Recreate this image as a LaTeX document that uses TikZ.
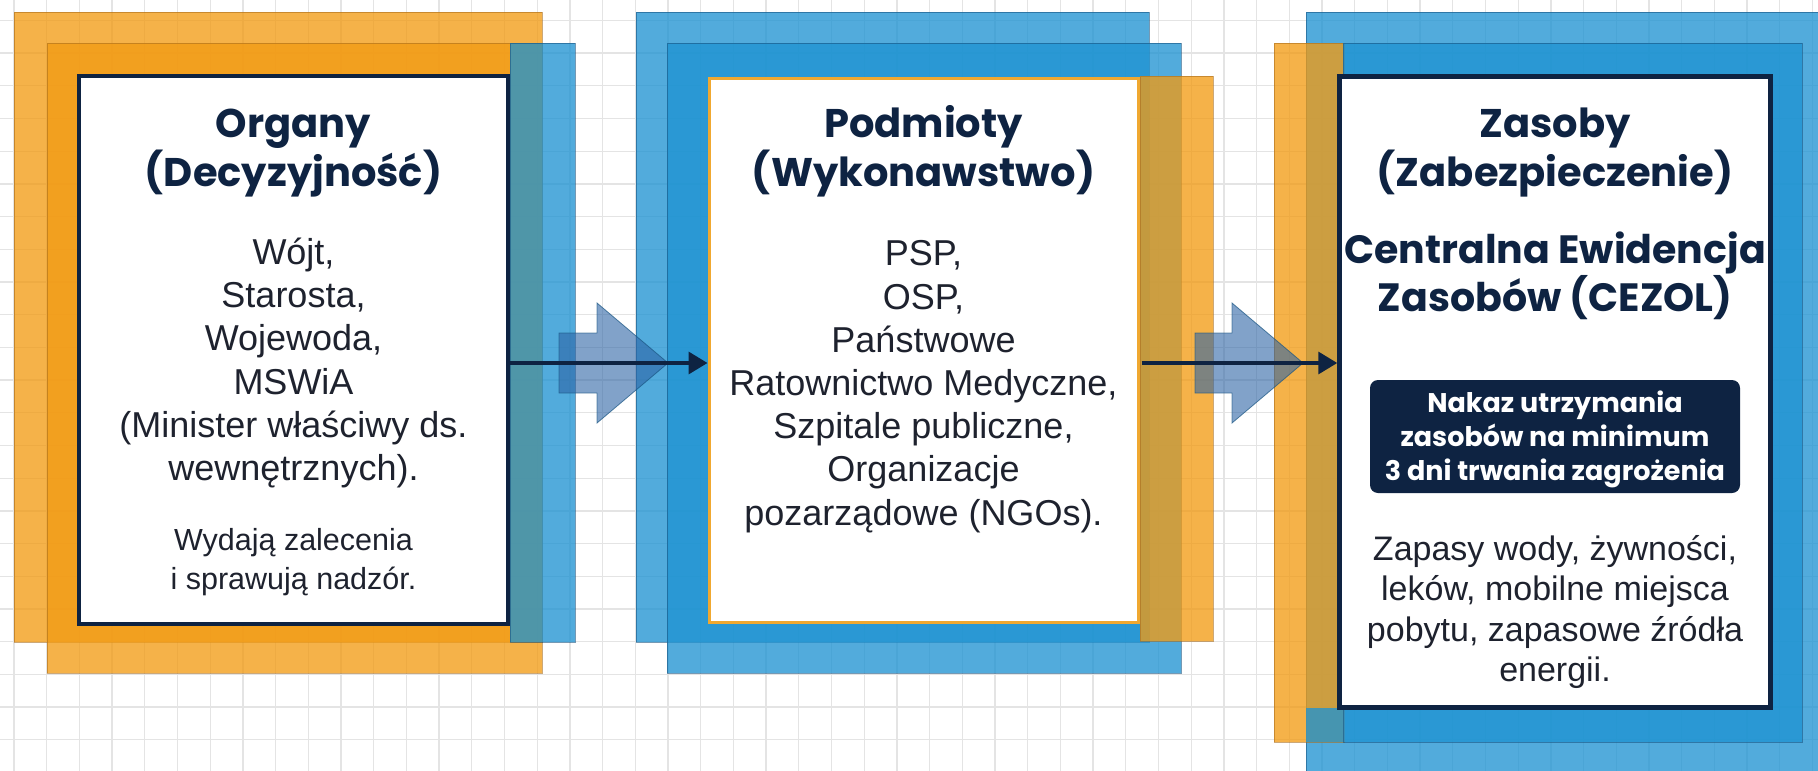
\documentclass[tikz,border=0pt]{standalone}
\usepackage{fontspec}
\setmainfont{Liberation Sans}
\newfontfamily\titlefont{Poppins}
\usetikzlibrary{arrows.meta}
\definecolor{org}{RGB}{242,155,19}
\definecolor{orgline}{RGB}{170,110,30}
\definecolor{blu}{RGB}{30,147,210}
\definecolor{bluline}{RGB}{25,85,130}
\definecolor{navy}{RGB}{14,35,66}
\definecolor{txt}{RGB}{30,34,46}
\definecolor{gridc}{RGB}{228,228,228}
\definecolor{barrow}{RGB}{45,100,165}
\definecolor{borg}{RGB}{240,168,48}
\tikzset{
  orangerect/.style={fill=org, fill opacity=0.77, draw=orgline, draw opacity=0.6, line width=1pt},
  bluerect/.style={fill=blu, fill opacity=0.77, draw=bluline, draw opacity=0.6, line width=1pt},
  whitebox/.style={draw=navy, fill=white, line width=3.5pt, inner sep=0pt},
  titletext/.style={anchor=base, align=center, text=navy, font={\titlefont\bfseries\fontsize{40}{43.4}\selectfont}},
  bodytext/.style={anchor=base, align=center, text=txt, font={\fontsize{36}{43.2}\selectfont}},
  blockarrow/.style={fill=barrow, fill opacity=0.6, draw=bluline, draw opacity=0.7, line width=0.8pt},
  flow/.style={draw=navy, line width=3.5pt, -{Triangle[length=19pt,width=22pt]}},
}
\begin{document}
\begin{tikzpicture}[x=1pt,y=-1pt]
\useasboundingbox (0,0) rectangle (1818,771);
\fill[white] (0,0) rectangle (1818,771);
% grid
\foreach \i in {-1,...,56} \draw[gridc,line width=1.3pt] ({14+32.7*\i},0) -- ({14+32.7*\i},771);
\foreach \j in {-1,...,24} \draw[gridc,line width=1.3pt] (0,{20.4+32.7*\j}) -- (1818,{20.4+32.7*\j});

% ---------- panel 1 ----------
\path[orangerect] (14,12) rectangle (542,642);
\path[orangerect] (47,43) rectangle (542,673);
\node[whitebox, minimum width=429pt, minimum height=548pt] (organy) at (293.5,350) {};
\path[bluerect] (510,43) rectangle (575,642);

% ---------- panel 2 ----------
\path[bluerect] (636,12) rectangle (1149,642);
\path[bluerect] (667,43) rectangle (1181,673);
\node[whitebox, draw=borg, line width=3pt, minimum width=429pt, minimum height=544pt] (podmioty) at (923.5,350) {};
\path[orangerect] (1140,76) rectangle (1213,641);

% ---------- panel 3 ----------
\path[bluerect] (1306,12) rectangle (1840,800);
\path[orangerect] (1274,43) rectangle (1344,742);
\path[bluerect] (1343,43) rectangle (1802,742);
\path[bluerect, draw=none] (1306,708) rectangle (1343,742);
\node[whitebox, line width=4.5pt, minimum width=431pt, minimum height=631pt] (zasoby) at (1555,392) {};

% ---------- arrows ----------
\coordinate (lvl) at (0,363);
\path[blockarrow] (559,333) -- (597,333) -- (597,303) -- (668,363) -- (597,423) -- (597,393) -- (559,393) -- cycle;
\path[blockarrow] (1195,333) -- (1232,333) -- (1232,303) -- (1303,363) -- (1232,423) -- (1232,393) -- (1195,393) -- cycle;
\draw[flow] (organy.east |- lvl) -- (podmioty.west |- lvl);
\draw[flow] ([xshift=2pt]podmioty.east |- lvl) -- (zasoby.west |- lvl);

% ---------- texts (anchor = baseline of last line) ----------
\node[titletext] (t1) at (293.5,186) {Organy\\(Decyzyjność)};
\node[bodytext] (b1) at (293.5,480.5) {Wójt,\\Starosta,\\Wojewoda,\\MSWiA\\(Minister właściwy ds.\\wewnętrznych).};
\node[bodytext, font={\fontsize{30.5}{38.5}\selectfont}] (n1) at (293.5,589) {Wydają zalecenia\\i sprawują nadzór.};

\node[titletext] (t2) at (923.5,186) {Podmioty\\(Wykonawstwo)};
\node[bodytext] (b2) at (923.5,525) {PSP,\\OSP,\\Państwowe\\Ratownictwo Medyczne,\\Szpitale publiczne,\\Organizacje\\pozarządowe (NGOs).};

\node[titletext] (t3) at (1555,186) {Zasoby\\(Zabezpieczenie)};
\node[titletext, font={\titlefont\bfseries\fontsize{39.5}{43}\selectfont}] (c3) at (1555,311) {Centralna Ewidencja\\Zasobów (CEZOL)};
\node[fill=navy, rounded corners=8pt, minimum width=370pt, minimum height=113pt, inner sep=0pt] (nakaz) at (1555,436.5) {};
\node[anchor=base, align=center, text=white, font={\titlefont\bfseries\fontsize{27}{34}\selectfont}] (nk) at (1555,480) {Nakaz utrzymania\\zasobów na minimum\\3 dni trwania zagrożenia};
\node[bodytext, font={\fontsize{34}{40.3}\selectfont}] (z3) at (1555,681.4) {Zapasy wody, żywności,\\leków, mobilne miejsca\\pobytu, zapasowe źródła\\energii.};
\end{tikzpicture}
\end{document}
